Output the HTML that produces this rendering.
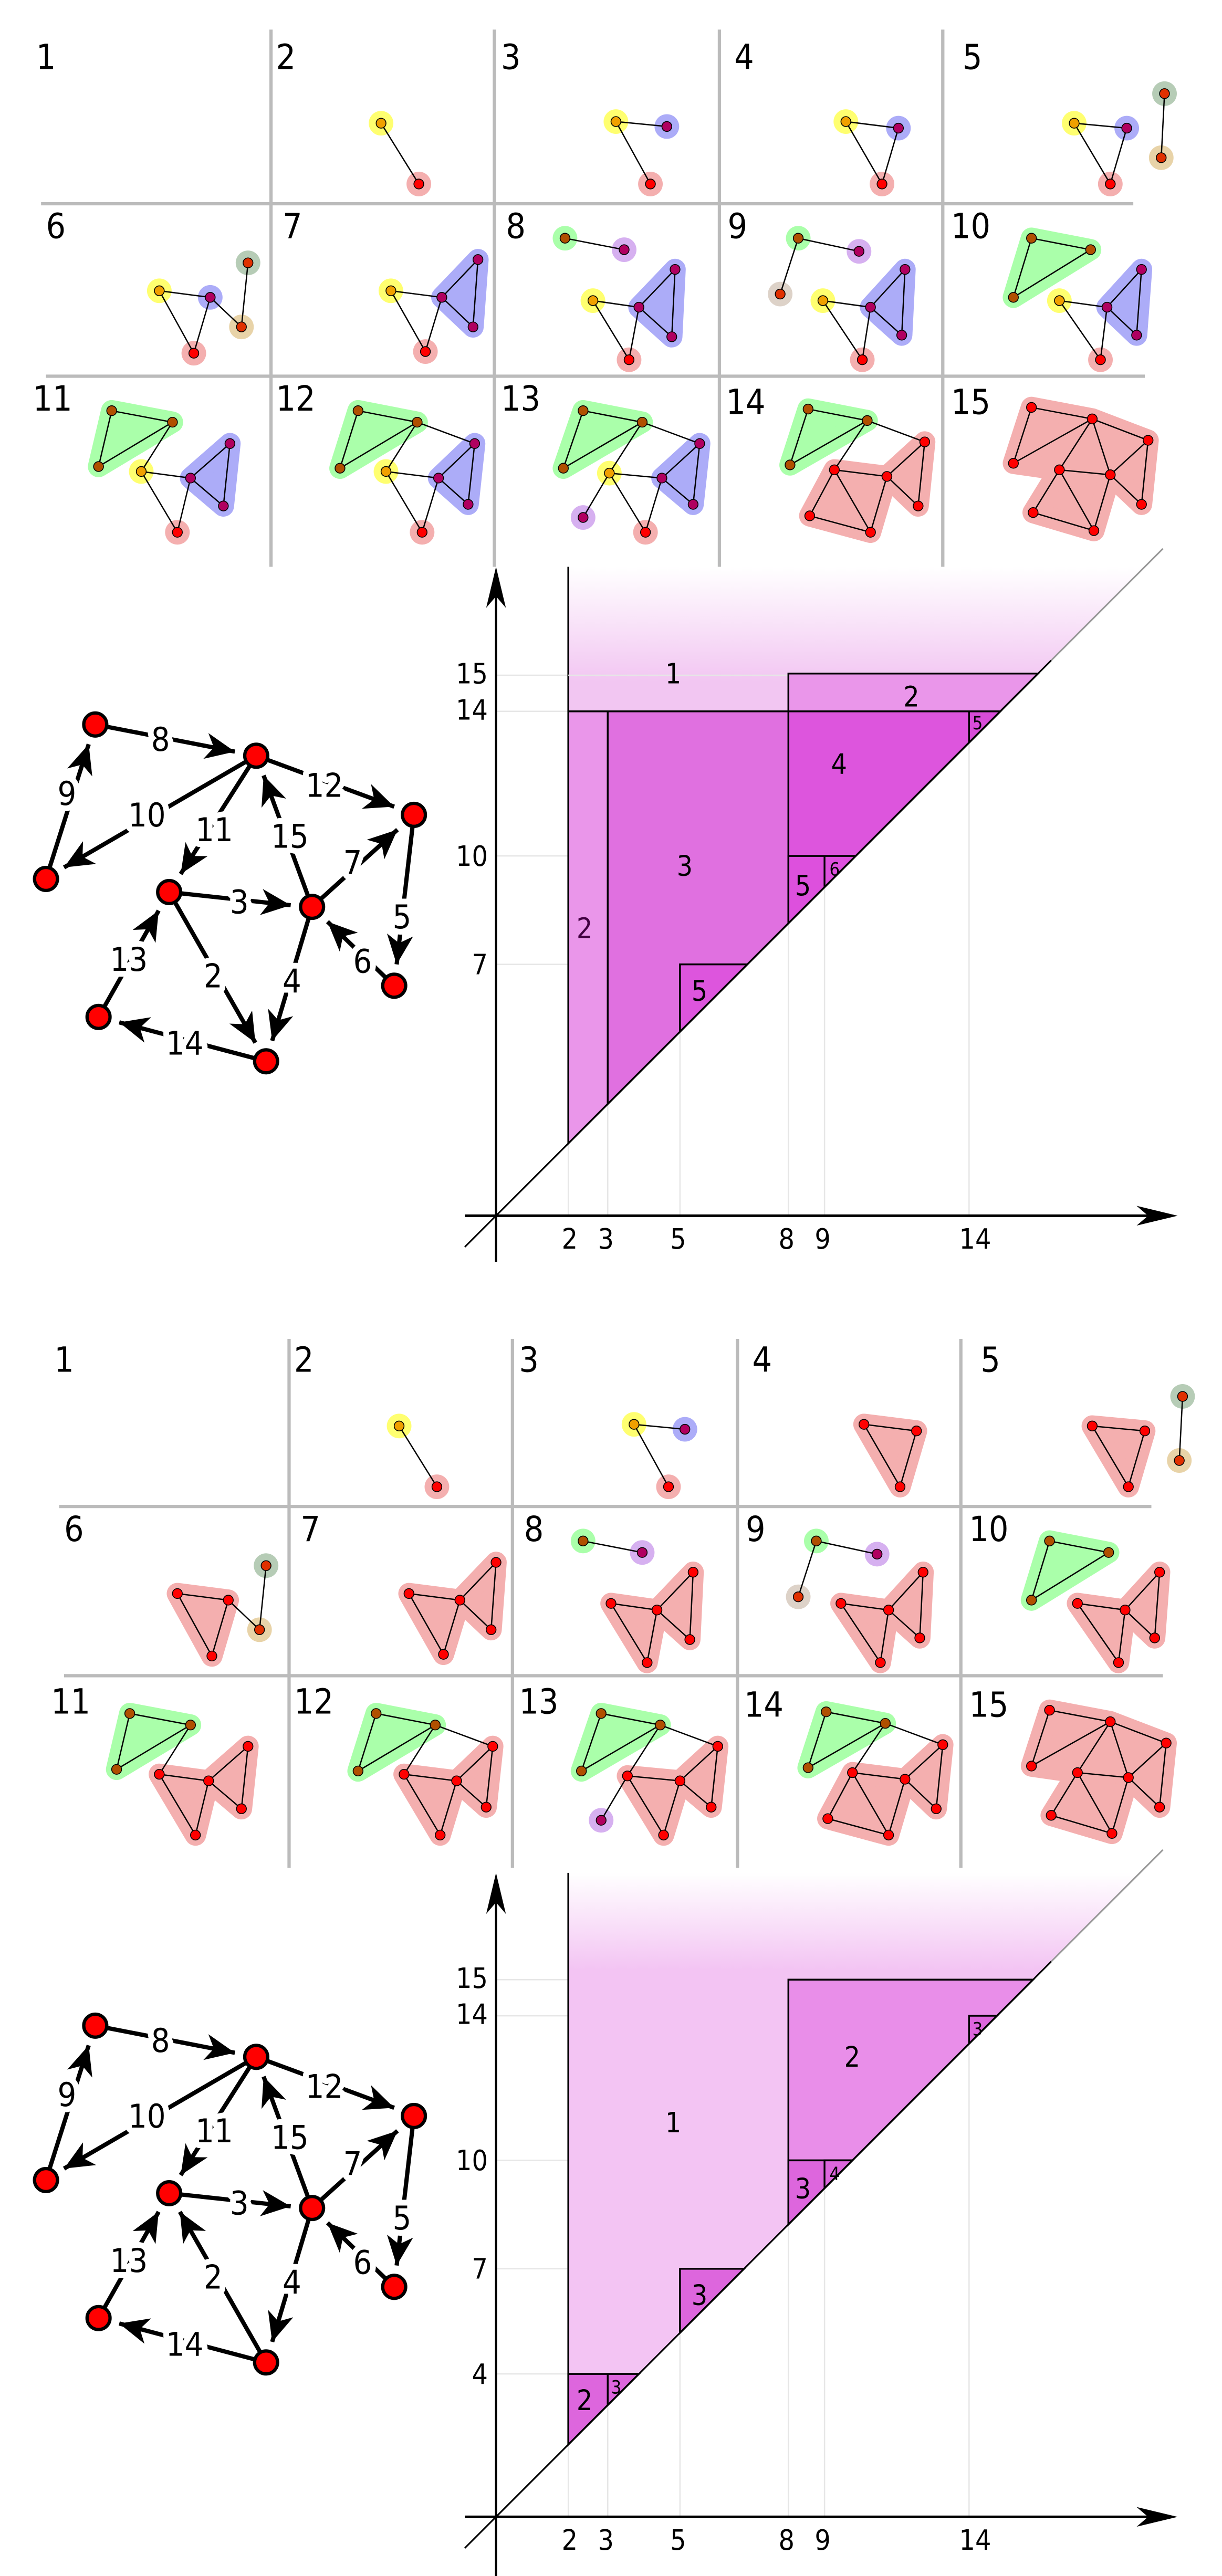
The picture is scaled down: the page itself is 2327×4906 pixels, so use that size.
<!DOCTYPE html>
<html><head><meta charset="utf-8"><style>
html,body{margin:0;padding:0;background:#fff}
svg{display:block}
text{font-family:"DejaVu Sans Condensed","DejaVu Sans","Liberation Sans",sans-serif}
.e{stroke:#000;stroke-width:.8}
.n{stroke:#000;stroke-width:.5}
.gl{stroke:#bbb;stroke-width:2}
.by{fill:#ffff70}.bb{fill:#acacf8}.br{fill:#f4afaf}.bg{fill:#aaffaa}.bp{fill:#d6b0f0}.bt{fill:#e8d3a8}.bs{fill:#b6ccb6}.bz{fill:#ddd2c8}
.pb{fill:#acacf8;stroke:#acacf8;stroke-width:13;stroke-linejoin:round}
.pr{fill:#f4afaf;stroke:#f4afaf;stroke-width:13;stroke-linejoin:round}
.pg{fill:#aaffaa;stroke:#aaffaa;stroke-width:13;stroke-linejoin:round}
.dy{fill:#f0a000}.db{fill:#b00060}.dr{fill:#ff0000}.dg{fill:#b05000}.dt{fill:#e03000}
.num{font-size:21px}
.ge{stroke:#000;stroke-width:2.6}
.gn{fill:#f00;stroke:#000;stroke-width:2}
.gt{font-size:20px;stroke:#fff;stroke-width:7;paint-order:stroke;stroke-linejoin:round}
.rg{stroke:#000;stroke-width:1.1}
.tk{font-size:17px}
.fg{stroke:#e6e6e6;stroke-width:.8}
</style></head><body>
<svg width="2327" height="4906" viewBox="0 0 744 1568" preserveAspectRatio="none" xmlns="http://www.w3.org/2000/svg">
<defs>
<marker id="ah" markerWidth="20" markerHeight="16" refX="18" refY="8" orient="auto" markerUnits="userSpaceOnUse"><path d="M0,0 L18,8 L0,16 L5,8 z" fill="#000"/></marker>
<linearGradient id="fade" x1="0" y1="0" x2="0" y2="1"><stop offset="0" stop-color="#f2c6f2" stop-opacity="0"/><stop offset="0.2" stop-color="#f2c6f2" stop-opacity="1"/><stop offset="1" stop-color="#f2c6f2"/></linearGradient>
<linearGradient id="fade2" x1="0" y1="0" x2="0" y2="1"><stop offset="0" stop-color="#f3c4f3" stop-opacity="0"/><stop offset="0.17" stop-color="#f3c4f3" stop-opacity="1"/><stop offset="1" stop-color="#f3c4f3"/></linearGradient>
</defs>

<!-- ============ TOP SNAPSHOTS ============ -->
<g>
<line class="gl" x1="165" y1="18" x2="165" y2="345"/><line class="gl" x1="301" y1="18" x2="301" y2="345"/>
<line class="gl" x1="438" y1="18" x2="438" y2="345"/><line class="gl" x1="574" y1="18" x2="574" y2="345"/>
<line class="gl" x1="25" y1="124" x2="690" y2="124"/><line class="gl" x1="28" y1="229" x2="697" y2="229"/>
<text class="num" x="22" y="42">1</text><text class="num" x="168" y="42">2</text><text class="num" x="305" y="42">3</text><text class="num" x="447" y="42">4</text><text class="num" x="586" y="42">5</text>
<text class="num" x="28" y="145">6</text><text class="num" x="172" y="145">7</text><text class="num" x="308" y="145">8</text><text class="num" x="443" y="145">9</text><text class="num" x="579" y="145">10</text>
<text class="num" x="20" y="250">11</text><text class="num" x="168" y="250">12</text><text class="num" x="305" y="250">13</text><text class="num" x="442" y="252">14</text><text class="num" x="579" y="252">15</text>
<circle class="by" cx="232" cy="75" r="7.5"/><circle class="br" cx="255" cy="112" r="7.5"/>
<line class="e" x1="232" y1="75" x2="255" y2="112"/>
<circle class="n dy" cx="232" cy="75" r="3"/><circle class="n dr" cx="255" cy="112" r="3"/>
<circle class="by" cx="375" cy="74" r="7.5"/><circle class="bb" cx="406" cy="77" r="7.5"/><circle class="br" cx="396" cy="112" r="7.5"/>
<line class="e" x1="375" y1="74" x2="406" y2="77"/><line class="e" x1="375" y1="74" x2="396" y2="112"/>
<circle class="n dy" cx="375" cy="74" r="3"/><circle class="n db" cx="406" cy="77" r="3"/><circle class="n dr" cx="396" cy="112" r="3"/>
<circle class="by" cx="515" cy="74" r="7.5"/><circle class="bb" cx="547" cy="78" r="7.5"/><circle class="br" cx="537" cy="112" r="7.5"/>
<line class="e" x1="515" y1="74" x2="547" y2="78"/><line class="e" x1="515" y1="74" x2="537" y2="112"/><line class="e" x1="547" y1="78" x2="537" y2="112"/>
<circle class="n dy" cx="515" cy="74" r="3"/><circle class="n db" cx="547" cy="78" r="3"/><circle class="n dr" cx="537" cy="112" r="3"/>
<circle class="by" cx="654" cy="75" r="7.5"/><circle class="bb" cx="686" cy="78" r="7.5"/><circle class="br" cx="676" cy="112" r="7.5"/><circle class="bs" cx="709" cy="57" r="7.5"/><circle class="bt" cx="707" cy="96" r="7.5"/>
<line class="e" x1="654" y1="75" x2="686" y2="78"/><line class="e" x1="654" y1="75" x2="676" y2="112"/><line class="e" x1="686" y1="78" x2="676" y2="112"/><line class="e" x1="709" y1="57" x2="707" y2="96"/>
<circle class="n dy" cx="654" cy="75" r="3"/><circle class="n db" cx="686" cy="78" r="3"/><circle class="n dr" cx="676" cy="112" r="3"/><circle class="n dt" cx="709" cy="57" r="3"/><circle class="n dt" cx="707" cy="96" r="3"/>
<circle class="by" cx="97" cy="177" r="7.5"/><circle class="bb" cx="128" cy="181" r="7.5"/><circle class="br" cx="118" cy="215" r="7.5"/><circle class="bs" cx="151" cy="160" r="7.5"/><circle class="bt" cx="147" cy="199" r="7.5"/>
<line class="e" x1="97" y1="177" x2="128" y2="181"/><line class="e" x1="97" y1="177" x2="118" y2="215"/><line class="e" x1="128" y1="181" x2="118" y2="215"/><line class="e" x1="151" y1="160" x2="147" y2="199"/><line class="e" x1="128" y1="181" x2="147" y2="199"/>
<circle class="n dy" cx="97" cy="177" r="3"/><circle class="n db" cx="128" cy="181" r="3"/><circle class="n dr" cx="118" cy="215" r="3"/><circle class="n dt" cx="151" cy="160" r="3"/><circle class="n dt" cx="147" cy="199" r="3"/>
<polygon class="pb" points="269,181 291,158 288,199"/>
<circle class="by" cx="238" cy="177" r="7.5"/><circle class="br" cx="259" cy="214" r="7.5"/>
<line class="e" x1="238" y1="177" x2="269" y2="181"/><line class="e" x1="238" y1="177" x2="259" y2="214"/><line class="e" x1="269" y1="181" x2="259" y2="214"/><line class="e" x1="269" y1="181" x2="291" y2="158"/><line class="e" x1="291" y1="158" x2="288" y2="199"/><line class="e" x1="269" y1="181" x2="288" y2="199"/>
<circle class="n dy" cx="238" cy="177" r="3"/><circle class="n db" cx="269" cy="181" r="3"/><circle class="n db" cx="291" cy="158" r="3"/><circle class="n db" cx="288" cy="199" r="3"/><circle class="n dr" cx="259" cy="214" r="3"/>
<polygon class="pb" points="389,187 411,164 409,205"/>
<circle class="bg" cx="344" cy="145" r="7.5"/><circle class="bp" cx="380" cy="152" r="7.5"/><circle class="by" cx="361" cy="183" r="7.5"/><circle class="br" cx="383" cy="219" r="7.5"/>
<line class="e" x1="344" y1="145" x2="380" y2="152"/><line class="e" x1="361" y1="183" x2="389" y2="187"/><line class="e" x1="361" y1="183" x2="383" y2="219"/><line class="e" x1="389" y1="187" x2="383" y2="219"/><line class="e" x1="389" y1="187" x2="411" y2="164"/><line class="e" x1="411" y1="164" x2="409" y2="205"/><line class="e" x1="389" y1="187" x2="409" y2="205"/>
<circle class="n dg" cx="344" cy="145" r="3"/><circle class="n db" cx="380" cy="152" r="3"/><circle class="n dy" cx="361" cy="183" r="3"/><circle class="n db" cx="389" cy="187" r="3"/><circle class="n db" cx="411" cy="164" r="3"/><circle class="n db" cx="409" cy="205" r="3"/><circle class="n dr" cx="383" cy="219" r="3"/>
<polygon class="pb" points="530,187 551,164 549,204"/>
<circle class="bg" cx="486" cy="145" r="7.5"/><circle class="bp" cx="523" cy="153" r="7.5"/><circle class="bz" cx="475" cy="179" r="7.5"/><circle class="by" cx="501" cy="183" r="7.5"/><circle class="br" cx="525" cy="219" r="7.5"/>
<line class="e" x1="486" y1="145" x2="523" y2="153"/><line class="e" x1="486" y1="145" x2="475" y2="179"/><line class="e" x1="501" y1="183" x2="530" y2="187"/><line class="e" x1="501" y1="183" x2="525" y2="219"/><line class="e" x1="530" y1="187" x2="525" y2="219"/><line class="e" x1="530" y1="187" x2="551" y2="164"/><line class="e" x1="551" y1="164" x2="549" y2="204"/><line class="e" x1="530" y1="187" x2="549" y2="204"/>
<circle class="n dg" cx="486" cy="145" r="3"/><circle class="n db" cx="523" cy="153" r="3"/><circle class="n dt" cx="475" cy="179" r="3"/><circle class="n dy" cx="501" cy="183" r="3"/><circle class="n db" cx="530" cy="187" r="3"/><circle class="n db" cx="551" cy="164" r="3"/><circle class="n db" cx="549" cy="204" r="3"/><circle class="n dr" cx="525" cy="219" r="3"/>
<polygon class="pg" points="628,145 664,152 617,181"/>
<polygon class="pb" points="674,187 695,164 692,204"/>
<circle class="by" cx="645" cy="183" r="7.5"/><circle class="br" cx="670" cy="219" r="7.5"/>
<line class="e" x1="628" y1="145" x2="664" y2="152"/><line class="e" x1="664" y1="152" x2="617" y2="181"/><line class="e" x1="628" y1="145" x2="617" y2="181"/>
<line class="e" x1="645" y1="183" x2="674" y2="187"/><line class="e" x1="645" y1="183" x2="670" y2="219"/><line class="e" x1="674" y1="187" x2="670" y2="219"/><line class="e" x1="674" y1="187" x2="695" y2="164"/><line class="e" x1="695" y1="164" x2="692" y2="204"/><line class="e" x1="674" y1="187" x2="692" y2="204"/>
<circle class="n dg" cx="628" cy="145" r="3"/><circle class="n dg" cx="664" cy="152" r="3"/><circle class="n dg" cx="617" cy="181" r="3"/><circle class="n dy" cx="645" cy="183" r="3"/><circle class="n db" cx="674" cy="187" r="3"/><circle class="n db" cx="695" cy="164" r="3"/><circle class="n db" cx="692" cy="204" r="3"/><circle class="n dr" cx="670" cy="219" r="3"/>
<polygon class="pg" points="68,250 105,257 60,284"/>
<polygon class="pb" points="116,291 140,270 136,308"/>
<circle class="by" cx="86" cy="287" r="7.5"/><circle class="br" cx="108" cy="324" r="7.5"/>
<line class="e" x1="68" y1="250" x2="105" y2="257"/><line class="e" x1="105" y1="257" x2="60" y2="284"/><line class="e" x1="68" y1="250" x2="60" y2="284"/><line class="e" x1="105" y1="257" x2="86" y2="287"/>
<line class="e" x1="86" y1="287" x2="116" y2="291"/><line class="e" x1="86" y1="287" x2="108" y2="324"/><line class="e" x1="116" y1="291" x2="108" y2="324"/><line class="e" x1="116" y1="291" x2="140" y2="270"/><line class="e" x1="140" y1="270" x2="136" y2="308"/><line class="e" x1="116" y1="291" x2="136" y2="308"/>
<circle class="n dg" cx="68" cy="250" r="3"/><circle class="n dg" cx="105" cy="257" r="3"/><circle class="n dg" cx="60" cy="284" r="3"/><circle class="n dy" cx="86" cy="287" r="3"/><circle class="n db" cx="116" cy="291" r="3"/><circle class="n db" cx="140" cy="270" r="3"/><circle class="n db" cx="136" cy="308" r="3"/><circle class="n dr" cx="108" cy="324" r="3"/>
<polygon class="pg" points="218,250 254,257 207,285"/>
<polygon class="pb" points="267,291 289,270 285,307"/>
<circle class="by" cx="235" cy="287" r="7.5"/><circle class="br" cx="257" cy="324" r="7.5"/>
<line class="e" x1="218" y1="250" x2="254" y2="257"/><line class="e" x1="254" y1="257" x2="207" y2="285"/><line class="e" x1="218" y1="250" x2="207" y2="285"/><line class="e" x1="254" y1="257" x2="235" y2="287"/><line class="e" x1="254" y1="257" x2="289" y2="270"/>
<line class="e" x1="235" y1="287" x2="267" y2="291"/><line class="e" x1="235" y1="287" x2="257" y2="324"/><line class="e" x1="267" y1="291" x2="257" y2="324"/><line class="e" x1="267" y1="291" x2="289" y2="270"/><line class="e" x1="289" y1="270" x2="285" y2="307"/><line class="e" x1="267" y1="291" x2="285" y2="307"/>
<circle class="n dg" cx="218" cy="250" r="3"/><circle class="n dg" cx="254" cy="257" r="3"/><circle class="n dg" cx="207" cy="285" r="3"/><circle class="n dy" cx="235" cy="287" r="3"/><circle class="n db" cx="267" cy="291" r="3"/><circle class="n db" cx="289" cy="270" r="3"/><circle class="n db" cx="285" cy="307" r="3"/><circle class="n dr" cx="257" cy="324" r="3"/>
<polygon class="pg" points="355,250 391,257 343,285"/>
<polygon class="pb" points="403,291 426,270 422,307"/>
<circle class="by" cx="371" cy="288" r="7.5"/><circle class="br" cx="393" cy="324" r="7.5"/><circle class="bp" cx="355" cy="315" r="7.5"/>
<line class="e" x1="355" y1="250" x2="391" y2="257"/><line class="e" x1="391" y1="257" x2="343" y2="285"/><line class="e" x1="355" y1="250" x2="343" y2="285"/><line class="e" x1="391" y1="257" x2="371" y2="288"/><line class="e" x1="391" y1="257" x2="426" y2="270"/><line class="e" x1="371" y1="288" x2="355" y2="315"/>
<line class="e" x1="371" y1="288" x2="403" y2="291"/><line class="e" x1="371" y1="288" x2="393" y2="324"/><line class="e" x1="403" y1="291" x2="393" y2="324"/><line class="e" x1="403" y1="291" x2="426" y2="270"/><line class="e" x1="426" y1="270" x2="422" y2="307"/><line class="e" x1="403" y1="291" x2="422" y2="307"/>
<circle class="n dg" cx="355" cy="250" r="3"/><circle class="n dg" cx="391" cy="257" r="3"/><circle class="n dg" cx="343" cy="285" r="3"/><circle class="n dy" cx="371" cy="288" r="3"/><circle class="n db" cx="403" cy="291" r="3"/><circle class="n db" cx="426" cy="270" r="3"/><circle class="n db" cx="422" cy="307" r="3"/><circle class="n dr" cx="393" cy="324" r="3"/><circle class="n db" cx="355" cy="315" r="3"/>
<polygon class="pg" points="492,249 528,256 481,283"/>
<polygon class="pr" points="508,286 540,290 563,269 559,308 540,290 530,324 493,314"/>
<line class="e" x1="492" y1="249" x2="528" y2="256"/><line class="e" x1="528" y1="256" x2="481" y2="283"/><line class="e" x1="492" y1="249" x2="481" y2="283"/><line class="e" x1="528" y1="256" x2="563" y2="269"/><line class="e" x1="528" y1="256" x2="508" y2="286"/>
<line class="e" x1="508" y1="286" x2="540" y2="290"/><line class="e" x1="540" y1="290" x2="563" y2="269"/><line class="e" x1="563" y1="269" x2="559" y2="308"/><line class="e" x1="540" y1="290" x2="559" y2="308"/><line class="e" x1="508" y1="286" x2="493" y2="314"/><line class="e" x1="493" y1="314" x2="530" y2="324"/><line class="e" x1="508" y1="286" x2="530" y2="324"/><line class="e" x1="540" y1="290" x2="530" y2="324"/>
<circle class="n dg" cx="492" cy="249" r="3"/><circle class="n dg" cx="528" cy="256" r="3"/><circle class="n dg" cx="481" cy="283" r="3"/><circle class="n dr" cx="508" cy="286" r="3"/><circle class="n dr" cx="540" cy="290" r="3"/><circle class="n dr" cx="563" cy="269" r="3"/><circle class="n dr" cx="559" cy="308" r="3"/><circle class="n dr" cx="493" cy="314" r="3"/><circle class="n dr" cx="530" cy="324" r="3"/>
<polygon class="pr" points="628,248 665,255 699,268 695,307 676,289 666,323 629,312 645,286 617,282"/>
<line class="e" x1="628" y1="248" x2="665" y2="255"/><line class="e" x1="628" y1="248" x2="617" y2="282"/><line class="e" x1="665" y1="255" x2="699" y2="268"/><line class="e" x1="665" y1="255" x2="617" y2="282"/><line class="e" x1="665" y1="255" x2="645" y2="286"/><line class="e" x1="665" y1="255" x2="676" y2="289"/><line class="e" x1="699" y1="268" x2="676" y2="289"/><line class="e" x1="699" y1="268" x2="695" y2="307"/><line class="e" x1="645" y1="286" x2="676" y2="289"/><line class="e" x1="676" y1="289" x2="695" y2="307"/><line class="e" x1="645" y1="286" x2="629" y2="312"/><line class="e" x1="645" y1="286" x2="666" y2="323"/><line class="e" x1="676" y1="289" x2="666" y2="323"/><line class="e" x1="629" y1="312" x2="666" y2="323"/>
<circle class="n dr" cx="628" cy="248" r="3"/><circle class="n dr" cx="665" cy="255" r="3"/><circle class="n dr" cx="699" cy="268" r="3"/><circle class="n dr" cx="617" cy="282" r="3"/><circle class="n dr" cx="645" cy="286" r="3"/><circle class="n dr" cx="676" cy="289" r="3"/><circle class="n dr" cx="695" cy="307" r="3"/><circle class="n dr" cx="629" cy="312" r="3"/><circle class="n dr" cx="666" cy="323" r="3"/>
</g>

<!-- ============ BOTTOM SNAPSHOTS ============ -->
<g transform="translate(11,793)">
<line class="gl" x1="165" y1="22" x2="165" y2="344"/><line class="gl" x1="301" y1="22" x2="301" y2="344"/>
<line class="gl" x1="438" y1="22" x2="438" y2="344"/><line class="gl" x1="574" y1="22" x2="574" y2="344"/>
<line class="gl" x1="25" y1="124" x2="690" y2="124"/><line class="gl" x1="28" y1="227" x2="697" y2="227"/>
<text class="num" x="22" y="42">1</text><text class="num" x="168" y="42">2</text><text class="num" x="305" y="42">3</text><text class="num" x="447" y="42">4</text><text class="num" x="586" y="42">5</text>
<text class="num" x="28" y="145">6</text><text class="num" x="172" y="145">7</text><text class="num" x="308" y="145">8</text><text class="num" x="443" y="145">9</text><text class="num" x="579" y="145">10</text>
<text class="num" x="20" y="250">11</text><text class="num" x="168" y="250">12</text><text class="num" x="305" y="250">13</text><text class="num" x="442" y="252">14</text><text class="num" x="579" y="252">15</text>
<circle class="by" cx="232" cy="75" r="7.5"/><circle class="br" cx="255" cy="112" r="7.5"/>
<line class="e" x1="232" y1="75" x2="255" y2="112"/>
<circle class="n dy" cx="232" cy="75" r="3"/><circle class="n dr" cx="255" cy="112" r="3"/>
<circle class="by" cx="375" cy="74" r="7.5"/><circle class="bb" cx="406" cy="77" r="7.5"/><circle class="br" cx="396" cy="112" r="7.5"/>
<line class="e" x1="375" y1="74" x2="406" y2="77"/><line class="e" x1="375" y1="74" x2="396" y2="112"/>
<circle class="n dy" cx="375" cy="74" r="3"/><circle class="n db" cx="406" cy="77" r="3"/><circle class="n dr" cx="396" cy="112" r="3"/>
<polygon class="pr" points="515,74 547,78 537,112"/>
<line class="e" x1="515" y1="74" x2="547" y2="78"/><line class="e" x1="515" y1="74" x2="537" y2="112"/><line class="e" x1="547" y1="78" x2="537" y2="112"/>
<circle class="n dr" cx="515" cy="74" r="3"/><circle class="n dr" cx="547" cy="78" r="3"/><circle class="n dr" cx="537" cy="112" r="3"/>
<polygon class="pr" points="654,75 686,78 676,112"/>
<circle class="bs" cx="709" cy="57" r="7.5"/><circle class="bt" cx="707" cy="96" r="7.5"/>
<line class="e" x1="654" y1="75" x2="686" y2="78"/><line class="e" x1="654" y1="75" x2="676" y2="112"/><line class="e" x1="686" y1="78" x2="676" y2="112"/><line class="e" x1="709" y1="57" x2="707" y2="96"/>
<circle class="n dr" cx="654" cy="75" r="3"/><circle class="n dr" cx="686" cy="78" r="3"/><circle class="n dr" cx="676" cy="112" r="3"/><circle class="n dt" cx="709" cy="57" r="3"/><circle class="n dt" cx="707" cy="96" r="3"/>
<polygon class="pr" points="97,177 128,181 118,215"/>
<circle class="bs" cx="151" cy="160" r="7.5"/><circle class="bt" cx="147" cy="199" r="7.5"/>
<line class="e" x1="97" y1="177" x2="128" y2="181"/><line class="e" x1="97" y1="177" x2="118" y2="215"/><line class="e" x1="128" y1="181" x2="118" y2="215"/><line class="e" x1="151" y1="160" x2="147" y2="199"/><line class="e" x1="128" y1="181" x2="147" y2="199"/>
<circle class="n dr" cx="97" cy="177" r="3"/><circle class="n dr" cx="128" cy="181" r="3"/><circle class="n dr" cx="118" cy="215" r="3"/><circle class="n dt" cx="151" cy="160" r="3"/><circle class="n dt" cx="147" cy="199" r="3"/>
<polygon class="pr" points="238,177 269,181 291,158 288,199 269,181 259,214"/>
<line class="e" x1="238" y1="177" x2="269" y2="181"/><line class="e" x1="238" y1="177" x2="259" y2="214"/><line class="e" x1="269" y1="181" x2="259" y2="214"/><line class="e" x1="269" y1="181" x2="291" y2="158"/><line class="e" x1="291" y1="158" x2="288" y2="199"/><line class="e" x1="269" y1="181" x2="288" y2="199"/>
<circle class="n dr" cx="238" cy="177" r="3"/><circle class="n dr" cx="269" cy="181" r="3"/><circle class="n dr" cx="291" cy="158" r="3"/><circle class="n dr" cx="288" cy="199" r="3"/><circle class="n dr" cx="259" cy="214" r="3"/>
<polygon class="pr" points="361,183 389,187 411,164 409,205 389,187 383,219"/>
<circle class="bg" cx="344" cy="145" r="7.5"/><circle class="bp" cx="380" cy="152" r="7.5"/>
<line class="e" x1="344" y1="145" x2="380" y2="152"/><line class="e" x1="361" y1="183" x2="389" y2="187"/><line class="e" x1="361" y1="183" x2="383" y2="219"/><line class="e" x1="389" y1="187" x2="383" y2="219"/><line class="e" x1="389" y1="187" x2="411" y2="164"/><line class="e" x1="411" y1="164" x2="409" y2="205"/><line class="e" x1="389" y1="187" x2="409" y2="205"/>
<circle class="n dg" cx="344" cy="145" r="3"/><circle class="n db" cx="380" cy="152" r="3"/><circle class="n dr" cx="361" cy="183" r="3"/><circle class="n dr" cx="389" cy="187" r="3"/><circle class="n dr" cx="411" cy="164" r="3"/><circle class="n dr" cx="409" cy="205" r="3"/><circle class="n dr" cx="383" cy="219" r="3"/>
<polygon class="pr" points="501,183 530,187 551,164 549,204 530,187 525,219"/>
<circle class="bg" cx="486" cy="145" r="7.5"/><circle class="bp" cx="523" cy="153" r="7.5"/><circle class="bz" cx="475" cy="179" r="7.5"/>
<line class="e" x1="486" y1="145" x2="523" y2="153"/><line class="e" x1="486" y1="145" x2="475" y2="179"/><line class="e" x1="501" y1="183" x2="530" y2="187"/><line class="e" x1="501" y1="183" x2="525" y2="219"/><line class="e" x1="530" y1="187" x2="525" y2="219"/><line class="e" x1="530" y1="187" x2="551" y2="164"/><line class="e" x1="551" y1="164" x2="549" y2="204"/><line class="e" x1="530" y1="187" x2="549" y2="204"/>
<circle class="n dg" cx="486" cy="145" r="3"/><circle class="n db" cx="523" cy="153" r="3"/><circle class="n dt" cx="475" cy="179" r="3"/><circle class="n dr" cx="501" cy="183" r="3"/><circle class="n dr" cx="530" cy="187" r="3"/><circle class="n dr" cx="551" cy="164" r="3"/><circle class="n dr" cx="549" cy="204" r="3"/><circle class="n dr" cx="525" cy="219" r="3"/>
<polygon class="pg" points="628,145 664,152 617,181"/>
<polygon class="pr" points="645,183 674,187 695,164 692,204 674,187 670,219"/>
<line class="e" x1="628" y1="145" x2="664" y2="152"/><line class="e" x1="664" y1="152" x2="617" y2="181"/><line class="e" x1="628" y1="145" x2="617" y2="181"/>
<line class="e" x1="645" y1="183" x2="674" y2="187"/><line class="e" x1="645" y1="183" x2="670" y2="219"/><line class="e" x1="674" y1="187" x2="670" y2="219"/><line class="e" x1="674" y1="187" x2="695" y2="164"/><line class="e" x1="695" y1="164" x2="692" y2="204"/><line class="e" x1="674" y1="187" x2="692" y2="204"/>
<circle class="n dg" cx="628" cy="145" r="3"/><circle class="n dg" cx="664" cy="152" r="3"/><circle class="n dg" cx="617" cy="181" r="3"/><circle class="n dr" cx="645" cy="183" r="3"/><circle class="n dr" cx="674" cy="187" r="3"/><circle class="n dr" cx="695" cy="164" r="3"/><circle class="n dr" cx="692" cy="204" r="3"/><circle class="n dr" cx="670" cy="219" r="3"/>
<polygon class="pg" points="68,250 105,257 60,284"/>
<polygon class="pr" points="86,287 116,291 140,270 136,308 116,291 108,324"/>
<line class="e" x1="68" y1="250" x2="105" y2="257"/><line class="e" x1="105" y1="257" x2="60" y2="284"/><line class="e" x1="68" y1="250" x2="60" y2="284"/><line class="e" x1="105" y1="257" x2="86" y2="287"/>
<line class="e" x1="86" y1="287" x2="116" y2="291"/><line class="e" x1="86" y1="287" x2="108" y2="324"/><line class="e" x1="116" y1="291" x2="108" y2="324"/><line class="e" x1="116" y1="291" x2="140" y2="270"/><line class="e" x1="140" y1="270" x2="136" y2="308"/><line class="e" x1="116" y1="291" x2="136" y2="308"/>
<circle class="n dg" cx="68" cy="250" r="3"/><circle class="n dg" cx="105" cy="257" r="3"/><circle class="n dg" cx="60" cy="284" r="3"/><circle class="n dr" cx="86" cy="287" r="3"/><circle class="n dr" cx="116" cy="291" r="3"/><circle class="n dr" cx="140" cy="270" r="3"/><circle class="n dr" cx="136" cy="308" r="3"/><circle class="n dr" cx="108" cy="324" r="3"/>
<polygon class="pg" points="218,250 254,257 207,285"/>
<polygon class="pr" points="235,287 267,291 289,270 285,307 267,291 257,324"/>
<line class="e" x1="218" y1="250" x2="254" y2="257"/><line class="e" x1="254" y1="257" x2="207" y2="285"/><line class="e" x1="218" y1="250" x2="207" y2="285"/><line class="e" x1="254" y1="257" x2="235" y2="287"/><line class="e" x1="254" y1="257" x2="289" y2="270"/>
<line class="e" x1="235" y1="287" x2="267" y2="291"/><line class="e" x1="235" y1="287" x2="257" y2="324"/><line class="e" x1="267" y1="291" x2="257" y2="324"/><line class="e" x1="267" y1="291" x2="289" y2="270"/><line class="e" x1="289" y1="270" x2="285" y2="307"/><line class="e" x1="267" y1="291" x2="285" y2="307"/>
<circle class="n dg" cx="218" cy="250" r="3"/><circle class="n dg" cx="254" cy="257" r="3"/><circle class="n dg" cx="207" cy="285" r="3"/><circle class="n dr" cx="235" cy="287" r="3"/><circle class="n dr" cx="267" cy="291" r="3"/><circle class="n dr" cx="289" cy="270" r="3"/><circle class="n dr" cx="285" cy="307" r="3"/><circle class="n dr" cx="257" cy="324" r="3"/>
<polygon class="pg" points="355,250 391,257 343,285"/>
<polygon class="pr" points="371,288 403,291 426,270 422,307 403,291 393,324"/>
<circle class="bp" cx="355" cy="315" r="7.5"/>
<line class="e" x1="355" y1="250" x2="391" y2="257"/><line class="e" x1="391" y1="257" x2="343" y2="285"/><line class="e" x1="355" y1="250" x2="343" y2="285"/><line class="e" x1="391" y1="257" x2="371" y2="288"/><line class="e" x1="391" y1="257" x2="426" y2="270"/><line class="e" x1="371" y1="288" x2="355" y2="315"/>
<line class="e" x1="371" y1="288" x2="403" y2="291"/><line class="e" x1="371" y1="288" x2="393" y2="324"/><line class="e" x1="403" y1="291" x2="393" y2="324"/><line class="e" x1="403" y1="291" x2="426" y2="270"/><line class="e" x1="426" y1="270" x2="422" y2="307"/><line class="e" x1="403" y1="291" x2="422" y2="307"/>
<circle class="n dg" cx="355" cy="250" r="3"/><circle class="n dg" cx="391" cy="257" r="3"/><circle class="n dg" cx="343" cy="285" r="3"/><circle class="n dr" cx="371" cy="288" r="3"/><circle class="n dr" cx="403" cy="291" r="3"/><circle class="n dr" cx="426" cy="270" r="3"/><circle class="n dr" cx="422" cy="307" r="3"/><circle class="n dr" cx="393" cy="324" r="3"/><circle class="n db" cx="355" cy="315" r="3"/>
<polygon class="pg" points="492,249 528,256 481,283"/>
<polygon class="pr" points="508,286 540,290 563,269 559,308 540,290 530,324 493,314"/>
<line class="e" x1="492" y1="249" x2="528" y2="256"/><line class="e" x1="528" y1="256" x2="481" y2="283"/><line class="e" x1="492" y1="249" x2="481" y2="283"/><line class="e" x1="528" y1="256" x2="563" y2="269"/><line class="e" x1="528" y1="256" x2="508" y2="286"/>
<line class="e" x1="508" y1="286" x2="540" y2="290"/><line class="e" x1="540" y1="290" x2="563" y2="269"/><line class="e" x1="563" y1="269" x2="559" y2="308"/><line class="e" x1="540" y1="290" x2="559" y2="308"/><line class="e" x1="508" y1="286" x2="493" y2="314"/><line class="e" x1="493" y1="314" x2="530" y2="324"/><line class="e" x1="508" y1="286" x2="530" y2="324"/><line class="e" x1="540" y1="290" x2="530" y2="324"/>
<circle class="n dg" cx="492" cy="249" r="3"/><circle class="n dg" cx="528" cy="256" r="3"/><circle class="n dg" cx="481" cy="283" r="3"/><circle class="n dr" cx="508" cy="286" r="3"/><circle class="n dr" cx="540" cy="290" r="3"/><circle class="n dr" cx="563" cy="269" r="3"/><circle class="n dr" cx="559" cy="308" r="3"/><circle class="n dr" cx="493" cy="314" r="3"/><circle class="n dr" cx="530" cy="324" r="3"/>
<polygon class="pr" points="628,248 665,255 699,268 695,307 676,289 666,323 629,312 645,286 617,282"/>
<line class="e" x1="628" y1="248" x2="665" y2="255"/><line class="e" x1="628" y1="248" x2="617" y2="282"/><line class="e" x1="665" y1="255" x2="699" y2="268"/><line class="e" x1="665" y1="255" x2="617" y2="282"/><line class="e" x1="665" y1="255" x2="645" y2="286"/><line class="e" x1="665" y1="255" x2="676" y2="289"/><line class="e" x1="699" y1="268" x2="676" y2="289"/><line class="e" x1="699" y1="268" x2="695" y2="307"/><line class="e" x1="645" y1="286" x2="676" y2="289"/><line class="e" x1="676" y1="289" x2="695" y2="307"/><line class="e" x1="645" y1="286" x2="629" y2="312"/><line class="e" x1="645" y1="286" x2="666" y2="323"/><line class="e" x1="676" y1="289" x2="666" y2="323"/><line class="e" x1="629" y1="312" x2="666" y2="323"/>
<circle class="n dr" cx="628" cy="248" r="3"/><circle class="n dr" cx="665" cy="255" r="3"/><circle class="n dr" cx="699" cy="268" r="3"/><circle class="n dr" cx="617" cy="282" r="3"/><circle class="n dr" cx="645" cy="286" r="3"/><circle class="n dr" cx="676" cy="289" r="3"/><circle class="n dr" cx="695" cy="307" r="3"/><circle class="n dr" cx="629" cy="312" r="3"/><circle class="n dr" cx="666" cy="323" r="3"/>
</g>

<!-- ============ TOP DIRECTED GRAPH ============ -->
<g>
<line class="ge" x1="58" y1="441" x2="143" y2="457.5" marker-end="url(#ah)"/>
<line class="ge" x1="28" y1="535" x2="54" y2="453" marker-end="url(#ah)"/>
<line class="ge" x1="156" y1="460" x2="39" y2="528" marker-end="url(#ah)"/>
<line class="ge" x1="156" y1="460" x2="110" y2="532" marker-end="url(#ah)"/>
<line class="ge" x1="190" y1="552" x2="160.5" y2="472" marker-end="url(#ah)"/>
<line class="ge" x1="156" y1="460" x2="240" y2="491" marker-end="url(#ah)"/>
<line class="ge" x1="190" y1="552" x2="242" y2="505" marker-end="url(#ah)"/>
<line class="ge" x1="252" y1="496" x2="241.5" y2="587" marker-end="url(#ah)"/>
<line class="ge" x1="103" y1="543" x2="177" y2="551" marker-end="url(#ah)"/>
<line class="ge" x1="240" y1="600" x2="199.4" y2="561" marker-end="url(#ah)"/>
<line class="ge" x1="103" y1="543" x2="155.5" y2="634.7" marker-end="url(#ah)"/>
<line class="ge" x1="190" y1="552" x2="165.7" y2="633.5" marker-end="url(#ah)"/>
<line class="ge" x1="60" y1="619" x2="96.6" y2="554.3" marker-end="url(#ah)"/>
<line class="ge" x1="162" y1="646" x2="72.6" y2="622.3" marker-end="url(#ah)"/>
<text class="gt" x="92" y="457">8</text><text class="gt" x="35" y="490">9</text><text class="gt" x="78" y="503">10</text>
<text class="gt" x="119" y="512">11</text><text class="gt" x="165" y="516">15</text><text class="gt" x="186" y="485">12</text>
<text class="gt" x="209" y="532">7</text><text class="gt" x="140" y="556">3</text><text class="gt" x="239" y="565">5</text>
<text class="gt" x="215" y="592">6</text><text class="gt" x="124" y="601">2</text><text class="gt" x="172" y="604">4</text>
<text class="gt" x="67" y="591">13</text><text class="gt" x="101" y="642">14</text>
<circle class="gn" cx="58" cy="441" r="7"/><circle class="gn" cx="156" cy="460" r="7"/><circle class="gn" cx="252" cy="496" r="7"/>
<circle class="gn" cx="28" cy="535" r="7"/><circle class="gn" cx="103" cy="543" r="7"/><circle class="gn" cx="190" cy="552" r="7"/>
<circle class="gn" cx="240" cy="600" r="7"/><circle class="gn" cx="60" cy="619" r="7"/><circle class="gn" cx="162" cy="646" r="7"/>
</g>

<!-- ============ BOTTOM DIRECTED GRAPH ============ -->
<g transform="translate(0,792)">
<line class="ge" x1="58" y1="441" x2="143" y2="457.5" marker-end="url(#ah)"/>
<line class="ge" x1="28" y1="535" x2="54" y2="453" marker-end="url(#ah)"/>
<line class="ge" x1="156" y1="460" x2="39" y2="528" marker-end="url(#ah)"/>
<line class="ge" x1="156" y1="460" x2="110" y2="532" marker-end="url(#ah)"/>
<line class="ge" x1="190" y1="552" x2="160.5" y2="472" marker-end="url(#ah)"/>
<line class="ge" x1="156" y1="460" x2="240" y2="491" marker-end="url(#ah)"/>
<line class="ge" x1="190" y1="552" x2="242" y2="505" marker-end="url(#ah)"/>
<line class="ge" x1="252" y1="496" x2="241.5" y2="587" marker-end="url(#ah)"/>
<line class="ge" x1="103" y1="543" x2="177" y2="551" marker-end="url(#ah)"/>
<line class="ge" x1="240" y1="600" x2="199.4" y2="561" marker-end="url(#ah)"/>
<line class="ge" x1="162" y1="646" x2="109.5" y2="554.3" marker-end="url(#ah)"/>
<line class="ge" x1="190" y1="552" x2="165.7" y2="633.5" marker-end="url(#ah)"/>
<line class="ge" x1="60" y1="619" x2="96.6" y2="554.3" marker-end="url(#ah)"/>
<line class="ge" x1="162" y1="646" x2="72.6" y2="622.3" marker-end="url(#ah)"/>
<text class="gt" x="92" y="457">8</text><text class="gt" x="35" y="490">9</text><text class="gt" x="78" y="503">10</text>
<text class="gt" x="119" y="512">11</text><text class="gt" x="165" y="516">15</text><text class="gt" x="186" y="485">12</text>
<text class="gt" x="209" y="532">7</text><text class="gt" x="140" y="556">3</text><text class="gt" x="239" y="565">5</text>
<text class="gt" x="215" y="592">6</text><text class="gt" x="124" y="601">2</text><text class="gt" x="172" y="604">4</text>
<text class="gt" x="67" y="591">13</text><text class="gt" x="101" y="642">14</text>
<circle class="gn" cx="58" cy="441" r="7"/><circle class="gn" cx="156" cy="460" r="7"/><circle class="gn" cx="252" cy="496" r="7"/>
<circle class="gn" cx="28" cy="535" r="7"/><circle class="gn" cx="103" cy="543" r="7"/><circle class="gn" cx="190" cy="552" r="7"/>
<circle class="gn" cx="240" cy="600" r="7"/><circle class="gn" cx="60" cy="619" r="7"/><circle class="gn" cx="162" cy="646" r="7"/>
</g>

<!-- ============ TOP PERSISTENCE DIAGRAM ============ -->
<g>
<line class="fg" x1="346" y1="740" x2="346" y2="696"/><line class="fg" x1="370" y1="740" x2="370" y2="672"/><line class="fg" x1="414" y1="740" x2="414" y2="628"/><line class="fg" x1="480" y1="740" x2="480" y2="562"/><line class="fg" x1="502" y1="740" x2="502" y2="540"/><line class="fg" x1="590" y1="740" x2="590" y2="452"/>
<line class="fg" x1="302" y1="411" x2="346" y2="411"/><line class="fg" x1="302" y1="433" x2="346" y2="433"/><line class="fg" x1="302" y1="521" x2="346" y2="521"/><line class="fg" x1="302" y1="587" x2="346" y2="587"/>
<polygon points="346,345 346,696 697,345" fill="url(#fade)"/>
<line x1="346" y1="345" x2="346" y2="433" stroke="#000" stroke-width="1.1"/>
<line class="fg" x1="346" y1="411" x2="480" y2="411"/>
<polygon class="rg" points="346,433 346,696 609,433" fill="#ea96ea"/>
<polygon class="rg" points="480,410 632,410 609,433 480,433" fill="#ea96ea"/>
<polygon class="rg" points="370,433 370,672 609,433" fill="#e070e0"/>
<polygon class="rg" points="480,433 480,562 609,433" fill="#dd55dd"/>
<polygon class="rg" points="590,433 590,452 609,433" fill="#d84cd8"/>
<polygon class="rg" points="480,521 480,562 521,521" fill="#dd50dd"/>
<polygon class="rg" points="502,521 502,540 521,521" fill="#dd50dd"/>
<polygon class="rg" points="414,587 414,628 455,587" fill="#dd55dd"/>
<line x1="283" y1="759" x2="640" y2="402" stroke="#000" stroke-width="1"/>
<line x1="640" y1="402" x2="708" y2="334" stroke="#999" stroke-width="1"/>
<line x1="302" y1="768" x2="302" y2="360" stroke="#000" stroke-width="1.3"/>
<polygon points="302,345 296,370 302,363 308,370" fill="#000"/>
<line x1="283" y1="740" x2="702" y2="740" stroke="#000" stroke-width="1.6"/>
<polygon points="717,740 692,734 699,740 692,746" fill="#000"/>
<text class="tk" x="342" y="760">2</text><text class="tk" x="364" y="760">3</text><text class="tk" x="408" y="760">5</text><text class="tk" x="474" y="760">8</text><text class="tk" x="496" y="760">9</text><text class="tk" x="584" y="760">14</text>
<text class="tk" text-anchor="end" x="297" y="416">15</text><text class="tk" text-anchor="end" x="297" y="438">14</text><text class="tk" text-anchor="end" x="297" y="527">10</text><text class="tk" text-anchor="end" x="297" y="593">7</text>
<text x="405" y="416" font-size="17">1</text><text x="550" y="430" font-size="17">2</text><text x="506" y="471" font-size="17">4</text>
<text x="412" y="533" font-size="17">3</text><text x="351" y="571" font-size="17" fill="#400040">2</text><text x="484" y="545" font-size="17">5</text>
<text x="505" y="533" font-size="11">6</text><text x="421" y="609" font-size="17">5</text><text x="592" y="444" font-size="11">5</text>
</g>

<!-- ============ BOTTOM PERSISTENCE DIAGRAM ============ -->
<g>
<line class="fg" x1="346" y1="1532" x2="346" y2="1488"/><line class="fg" x1="370" y1="1532" x2="370" y2="1464"/><line class="fg" x1="414" y1="1532" x2="414" y2="1420"/><line class="fg" x1="480" y1="1532" x2="480" y2="1354"/><line class="fg" x1="502" y1="1532" x2="502" y2="1332"/><line class="fg" x1="590" y1="1532" x2="590" y2="1244"/>
<line class="fg" x1="302" y1="1205" x2="480" y2="1205"/><line class="fg" x1="302" y1="1227" x2="590" y2="1227"/><line class="fg" x1="302" y1="1315" x2="480" y2="1315"/><line class="fg" x1="302" y1="1381" x2="414" y2="1381"/><line class="fg" x1="302" y1="1445" x2="346" y2="1445"/>
<polygon points="346,1140 346,1488 694,1140" fill="url(#fade2)"/>
<line x1="346" y1="1140" x2="346" y2="1488" stroke="#000" stroke-width="1.1"/>
<polygon class="rg" points="480,1205 629,1205 480,1354" fill="#e98ee9"/>
<polygon class="rg" points="590,1227 590,1244 607,1227" fill="#dd66dd"/>
<polygon class="rg" points="480,1315 480,1354 519,1315" fill="#dd66dd"/>
<polygon class="rg" points="502,1315 502,1332 519,1315" fill="#dd66dd"/>
<polygon class="rg" points="414,1381 414,1420 453,1381" fill="#dd66dd"/>
<polygon class="rg" points="346,1445 346,1488 389,1445" fill="#dd66dd"/>
<polygon class="rg" points="370,1445 370,1464 389,1445" fill="#dd66dd"/>
<line x1="283" y1="1551" x2="640" y2="1194" stroke="#000" stroke-width="1"/>
<line x1="640" y1="1194" x2="708" y2="1126" stroke="#999" stroke-width="1"/>
<line x1="302" y1="1568" x2="302" y2="1155" stroke="#000" stroke-width="1.3"/>
<polygon points="302,1140 296,1165 302,1158 308,1165" fill="#000"/>
<line x1="283" y1="1532" x2="702" y2="1532" stroke="#000" stroke-width="1.6"/>
<polygon points="717,1532 692,1526 699,1532 692,1538" fill="#000"/>
<text class="tk" x="342" y="1552">2</text><text class="tk" x="364" y="1552">3</text><text class="tk" x="408" y="1552">5</text><text class="tk" x="474" y="1552">8</text><text class="tk" x="496" y="1552">9</text><text class="tk" x="584" y="1552">14</text>
<text class="tk" text-anchor="end" x="297" y="1210">15</text><text class="tk" text-anchor="end" x="297" y="1232">14</text><text class="tk" text-anchor="end" x="297" y="1321">10</text><text class="tk" text-anchor="end" x="297" y="1387">7</text><text class="tk" text-anchor="end" x="297" y="1451">4</text>
<text x="405" y="1298" font-size="17">1</text><text x="514" y="1258" font-size="17">2</text><text x="592" y="1239" font-size="11">3</text>
<text x="484" y="1338" font-size="17">3</text><text x="505" y="1327" font-size="11">4</text><text x="421" y="1403" font-size="17">3</text>
<text x="351" y="1467" font-size="17">2</text><text x="372" y="1457" font-size="11">3</text>
</g>
</svg>
</body></html>
